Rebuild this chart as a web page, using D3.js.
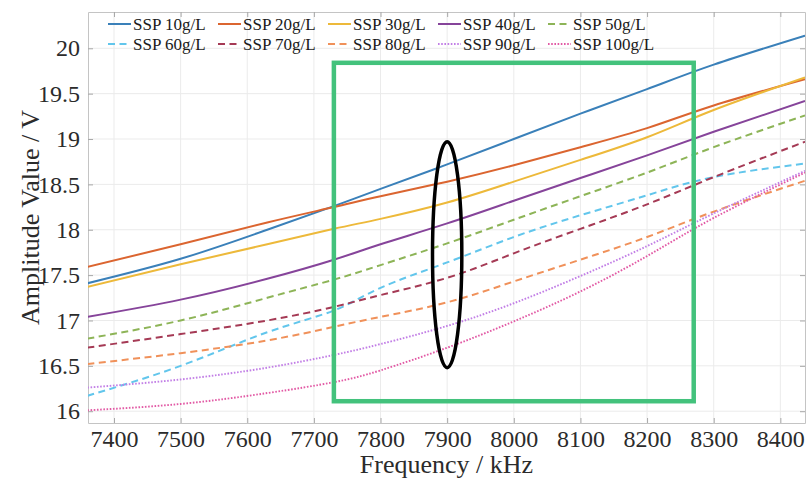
<!DOCTYPE html>
<html>
<head>
<meta charset="utf-8">
<script src="https://cdn.jsdelivr.net/npm/d3@7"></script>
<style>
    body { margin: 0; background: #fff; }
    svg { display: block; font-family: "Liberation Serif", "Times New Roman", serif; }
</style>
</head>
<body>
<div id="chart-container"></div>
<script>
// Data (frequency in kHz, amplitude in V)
const freq = [7360, 7500, 7630, 7730, 7800, 7900, 8000, 8100, 8200, 8300, 8437]
const ssp10 = [17.41, 17.68, 18.00, 18.26, 18.45, 18.72, 19.00, 19.28, 19.55, 19.82, 20.14]
const ssp20 = [17.59, 17.84, 18.08, 18.25, 18.37, 18.53, 18.71, 18.91, 19.12, 19.37, 19.66]
const ssp30 = [17.37, 17.62, 17.84, 18.01, 18.12, 18.30, 18.53, 18.77, 19.02, 19.32, 19.68]
const ssp40 = [17.04, 17.23, 17.46, 17.67, 17.84, 18.07, 18.32, 18.57, 18.82, 19.08, 19.42]
const ssp50 = [16.80, 17.00, 17.25, 17.45, 17.61, 17.85, 18.11, 18.37, 18.63, 18.91, 19.26]
const ssp60 = [16.17, 16.50, 16.87, 17.11, 17.36, 17.64, 17.92, 18.16, 18.38, 18.58, 18.73]
const ssp70 = [16.70, 16.85, 17.00, 17.15, 17.28, 17.47, 17.74, 18.01, 18.28, 18.58, 18.97]
const ssp80 = [16.52, 16.64, 16.78, 16.93, 17.04, 17.20, 17.43, 17.67, 17.92, 18.20, 18.54]
const ssp90 = [16.26, 16.35, 16.48, 16.62, 16.74, 16.94, 17.19, 17.49, 17.82, 18.18, 18.65]
const ssp100 = [16.01, 16.08, 16.20, 16.32, 16.45, 16.70, 16.99, 17.32, 17.71, 18.13, 18.63]

const seriesNames = ['SSP 10g/L', 'SSP 20g/L', 'SSP 30g/L', 'SSP 40g/L', 'SSP 50g/L',
    'SSP 60g/L', 'SSP 70g/L', 'SSP 80g/L', 'SSP 90g/L', 'SSP 100g/L']
const seriesValues = [ssp10, ssp20, ssp30, ssp40, ssp50, ssp60, ssp70, ssp80, ssp90, ssp100]

const xTicks = [7400, 7500, 7600, 7700, 7800, 7900, 8000, 8100, 8200, 8300, 8400]
const yTicks = [16, 16.5, 17, 17.5, 18, 18.5, 19, 19.5, 20]

// highlighted region and ellipse (data units)
const boxFreq = [7730, 8270]
const boxAmp = [16.11, 19.84]
const ellipseCenter = [7900, 17.725]
const ellipseRadius = [22, 1.245]

// line styles
const colors = ['#3a80b9', '#db6530', '#edb93a', '#86449a', '#8db457',
    '#62c6ec', '#a53a55', '#f0915a', '#c27fe6', '#e25aa5']
const dashes = [null, null, null, null, '7,4.5', '7,4.5', '7,4.5', '7,4.5', '1.6,1.6', '1.6,1.6']

const width = 808
const height = 479
const plot = { left: 88, right: 805, top: 12, bottom: 423 }

const svg = d3.select('#chart-container')
    .append('svg')
    .attr('width', width)
    .attr('height', height)

const x = d3.scaleLinear().domain([7361, 8437]).range([plot.left, plot.right])
const y = d3.scaleLinear().domain([15.87, 20.40]).range([plot.bottom, plot.top])

svg.append('defs').append('clipPath').attr('id', 'clip')
    .append('rect')
    .attr('x', plot.left).attr('y', plot.top)
    .attr('width', plot.right - plot.left).attr('height', plot.bottom - plot.top)

// grid
const grid = svg.append('g').attr('stroke', '#ebebeb').attr('stroke-width', 1)
xTicks.forEach(t => grid.append('line')
    .attr('x1', x(t)).attr('x2', x(t)).attr('y1', plot.top).attr('y2', plot.bottom))
yTicks.forEach(t => grid.append('line')
    .attr('x1', plot.left).attr('x2', plot.right).attr('y1', y(t)).attr('y2', y(t)))

// axes with inward ticks on all four sides
const tickColor = '#a8a8a8'
function styleAxis(g) {
    g.select('.domain').attr('stroke', '#c4c4c4')
    g.selectAll('.tick line').attr('stroke', tickColor)
    g.selectAll('.tick text')
        .attr('fill', '#2b2b2b')
        .style('font-size', '24px')
        .style('font-family', '"Liberation Serif", serif')
}

svg.append('g')
    .attr('transform', 'translate(0,' + plot.bottom + ')')
    .call(d3.axisBottom(x).tickValues(xTicks).tickSize(-5).tickSizeOuter(0).tickPadding(7).tickFormat(d3.format('d')))
    .call(styleAxis)

svg.append('g')
    .attr('transform', 'translate(0,' + plot.top + ')')
    .call(d3.axisTop(x).tickValues(xTicks).tickSize(-5).tickSizeOuter(0).tickFormat(''))
    .call(styleAxis)

svg.append('g')
    .attr('transform', 'translate(' + plot.left + ',0)')
    .call(d3.axisLeft(y).tickValues(yTicks).tickSize(-5).tickSizeOuter(0).tickPadding(8).tickFormat(d3.format('')))
    .call(styleAxis)

svg.append('g')
    .attr('transform', 'translate(' + plot.right + ',0)')
    .call(d3.axisRight(y).tickValues(yTicks).tickSize(-5).tickSizeOuter(0).tickFormat(''))
    .call(styleAxis)

// curves
const line = d3.line()
    .x((d, i) => x(freq[i]))
    .y(d => y(d))
    .curve(d3.curveNatural)

const curves = svg.append('g').attr('clip-path', 'url(#clip)')
seriesValues.forEach((vals, i) => {
    curves.append('path')
        .datum(vals)
        .attr('d', line)
        .attr('fill', 'none')
        .attr('stroke', colors[i])
        .attr('stroke-width', i >= 8 ? 1.9 : 2)
        .attr('stroke-dasharray', dashes[i])
})

// annotations
svg.append('rect')
    .attr('x', x(boxFreq[0]))
    .attr('y', y(boxAmp[1]))
    .attr('width', x(boxFreq[1]) - x(boxFreq[0]))
    .attr('height', y(boxAmp[0]) - y(boxAmp[1]))
    .attr('fill', 'none')
    .attr('stroke', '#43c27c')
    .attr('stroke-width', 4.5)

svg.append('ellipse')
    .attr('cx', x(ellipseCenter[0]))
    .attr('cy', y(ellipseCenter[1]))
    .attr('rx', x(ellipseCenter[0] + ellipseRadius[0]) - x(ellipseCenter[0]))
    .attr('ry', y(ellipseCenter[1] - ellipseRadius[1]) - y(ellipseCenter[1]))
    .attr('fill', 'none')
    .attr('stroke', '#000')
    .attr('stroke-width', 3.5)

// legend, two rows of five
const legend = svg.append('g').attr('transform', 'translate(108,24)')
seriesNames.forEach((name, i) => {
    const item = legend.append('g')
        .attr('transform', 'translate(' + (i % 5) * 110 + ',' + Math.floor(i / 5) * 20 + ')')
    item.append('line')
        .attr('x1', 0).attr('x2', 23).attr('y1', 0).attr('y2', 0)
        .attr('stroke', colors[i])
        .attr('stroke-width', 2)
        .attr('stroke-dasharray', dashes[i])
    item.append('text')
        .attr('x', 25)
        .attr('y', 0)
        .attr('dy', '0.33em')
        .attr('fill', '#1a1a1a')
        .style('font-size', '17px')
        .text(name)
})

// axis titles
svg.append('text')
    .attr('x', (plot.left + plot.right) / 2)
    .attr('y', 473)
    .attr('text-anchor', 'middle')
    .attr('fill', '#2b2b2b')
    .style('font-size', '26px')
    .text('Frequency / kHz')

svg.append('text')
    .attr('transform', 'translate(39,' + (plot.top + plot.bottom) / 2 + ') rotate(-90)')
    .attr('text-anchor', 'middle')
    .attr('fill', '#2b2b2b')
    .style('font-size', '26px')
    .text('Amplitude Value / V')
</script>
</body>
</html>
